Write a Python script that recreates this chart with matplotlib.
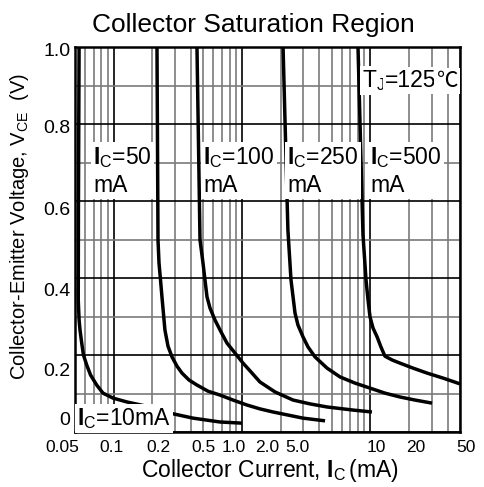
import matplotlib
matplotlib.use("Agg")
import matplotlib.pyplot as plt
from matplotlib.ticker import FixedLocator, NullFormatter, LogLocator

plt.rcParams['font.family'] = ['Liberation Sans', 'DejaVu Sans']
plt.rcParams['mathtext.fontset'] = 'custom'
plt.rcParams['mathtext.rm'] = 'Liberation Sans'
plt.rcParams['mathtext.it'] = 'Liberation Sans:italic'
plt.rcParams['mathtext.bf'] = 'Liberation Sans:bold'

# ---- data ----
curve_10_x = [0.0538, 0.0532, 0.0530, 0.0538, 0.0547, 0.0564, 0.0582, 0.0617, 0.0661, 0.0738, 0.0826,
              0.0989, 0.127, 0.192, 0.275, 0.416, 0.674, 1.0]
curve_10_y = [1.0, 0.603, 0.343, 0.291, 0.265, 0.231, 0.200, 0.174, 0.148, 0.122, 0.101,
              0.088, 0.078, 0.065, 0.049, 0.036, 0.026, 0.023]

curve_50_x = [0.2177, 0.2217, 0.2257, 0.2319, 0.238, 0.251, 0.2652, 0.285, 0.3117, 0.341, 0.3867, 0.446,
              0.5437, 0.674, 0.8513, 1.095, 1.3825, 1.745, 2.99, 4.44]
curve_50_y = [1.0, 0.499, 0.439, 0.395, 0.351, 0.265, 0.223, 0.195, 0.171, 0.153, 0.135, 0.122,
              0.106, 0.096, 0.083, 0.070, 0.060, 0.052, 0.036, 0.029]

curve_100_x = [0.446, 0.471, 0.497, 0.515, 0.534, 0.5636, 0.616, 0.6866, 0.764, 0.8826, 1.019, 1.176,
               1.38, 1.81, 2.50, 3.39, 4.6, 7.33, 10.3]
curve_100_y = [1.0, 0.499, 0.439, 0.395, 0.351, 0.322, 0.291, 0.260, 0.231, 0.205, 0.179, 0.156,
               0.130, 0.104, 0.083, 0.073, 0.065, 0.057, 0.052]

curve_250_x = [2.09, 2.28, 2.41, 2.59, 2.73, 2.99, 3.27, 3.71, 4.60, 5.81, 7.60, 9.95, 13.0, 17.0, 22.3, 30.3]
curve_250_y = [1.0, 0.525, 0.395, 0.309, 0.278, 0.247, 0.221, 0.195, 0.166, 0.143, 0.127, 0.114,
               0.101, 0.091, 0.083, 0.075]

curve_500_x = [8.02, 8.77, 9.26, 9.60, 9.95, 10.5, 11.3, 12.1, 13.0, 14.8, 17.0, 21.5, 27.7, 36.9, 50.0]
curve_500_y = [1.0, 0.512, 0.395, 0.343, 0.299, 0.270, 0.247, 0.221, 0.197, 0.187, 0.179, 0.166,
               0.153, 0.140, 0.125]

x_ticks = [0.05, 0.1, 0.2, 0.5, 1.0, 2.0, 5.0, 10, 20, 50]
x_tick_labels = ['0.05', '0.1', '0.2', '0.5', '1.0', '2.0', '5.0', '10', '20', '50']
y_ticks = [0, 0.2, 0.4, 0.6, 0.8, 1.0]
y_tick_labels = ['0', '0.2', '0.4', '0.6', '0.8', '1.0']

# nudges (points) of the tick labels, as they are placed in the reference
x_label_nudge = [-9.4, -1.4, 4.3, 0, -5.8, -10, -24.5, 4.3, 5, 4.3]
y_label_nudge = [8, -12, -10, -7, -3.2, -3.2]

fig = plt.figure(figsize=(4.84, 4.87), dpi=100)
ax = fig.add_axes([75/484, 55/487, 385/484, 385/487])

ax.set_xscale('log')
ax.set_xlim(0.05, 50)
ax.set_ylim(0, 1.0)

# grid
ax.xaxis.set_major_locator(FixedLocator([0.1, 1, 10]))
ax.xaxis.set_minor_locator(LogLocator(base=10, subs=[2, 3, 4, 5, 6, 7, 8, 9]))
ax.xaxis.set_major_formatter(NullFormatter())
ax.xaxis.set_minor_formatter(NullFormatter())
ax.yaxis.set_major_locator(FixedLocator(y_ticks))
ax.yaxis.set_minor_locator(FixedLocator([0.1, 0.3, 0.5, 0.7, 0.9]))
ax.yaxis.set_major_formatter(NullFormatter())
ax.grid(True, which='major', axis='both', color='black', lw=1.2)
ax.grid(True, which='minor', axis='both', color='#7a7a7a', lw=1.2)
ax.set_axisbelow(True)
ax.tick_params(axis='both', which='both', length=0)

for xs, ys in [(curve_10_x, curve_10_y), (curve_50_x, curve_50_y), (curve_100_x, curve_100_y),
               (curve_250_x, curve_250_y), (curve_500_x, curve_500_y)]:
    ax.plot(xs, ys, color='black', lw=2.5, solid_joinstyle='round', solid_capstyle='butt', zorder=3)

for xv, lab, dx in zip(x_ticks, x_tick_labels, x_label_nudge):
    ax.annotate(lab, xy=(xv, 0), xycoords=('data', 'axes fraction'), xytext=(dx, -6),
                textcoords='offset points', ha='center', va='top', fontsize=12.5, annotation_clip=False)

for yv, lab, dy in zip(y_ticks, y_tick_labels, y_label_nudge):
    ax.annotate(lab, xy=(0, yv), xycoords=('axes fraction', 'data'), xytext=(-3.2, dy),
                textcoords='offset points', ha='right', va='center', fontsize=14, annotation_clip=False)

for s in ax.spines.values():
    s.set_linewidth(1.8)
    s.set_zorder(4)

fig.text(270/484, 1 - 477/487, r'Collector Current, $\mathbf{I}_\mathrm{C}\,$(mA)', fontsize=16.5,
         ha='center', va='baseline')
fig.text(20/484, 1 - 226/487, r'Collector-Emitter Voltage, V$_\mathrm{CE}$  (V)', fontsize=14.5,
         rotation=90, ha='center', va='center')
fig.text(253/484, 1 - 32/487, 'Collector Saturation Region', fontsize=19, ha='center', va='baseline')

box = dict(facecolor='white', edgecolor='none', pad=1.5)
lab_fs = 16.5
def ltxt(px, py, s, **kw):
    return ax.text((px - 75) / 385, (432 - py) / 385, s, transform=ax.transAxes, fontsize=lab_fs,
                   ha='left', va='top', bbox=box, zorder=5, linespacing=1.2, **kw)

ltxt(93, 145, '$\\mathbf{I}_\\mathrm{C}$=50\nmA')
ltxt(203, 145, '$\\mathbf{I}_\\mathrm{C}$=100\nmA')
ltxt(287, 145, '$\\mathbf{I}_\\mathrm{C}$=250\nmA')
ltxt(370, 145, '$\\mathbf{I}_\\mathrm{C}$=500\nmA')
ltxt(77, 406, '$\\mathbf{I}_\\mathrm{C}$=10mA')

tj_base = (432 - 87) / 385
t1 = ax.text((362 - 75) / 385, tj_base, 'T$_\\mathrm{J}$', transform=ax.transAxes, fontsize=lab_fs,
             ha='left', va='baseline', bbox=box, zorder=5)
t2 = ax.annotate('=125', xy=(1, tj_base), xycoords=(t1, ax.transAxes), ha='left', va='baseline',
                 fontsize=lab_fs, bbox=box, zorder=5, annotation_clip=False)
ax.annotate('\u2103', xy=(1, tj_base), xycoords=(t2, ax.transAxes), ha='left', va='baseline',
            fontsize=lab_fs - 1, family=['Noto Sans CJK SC'], bbox=box, zorder=5,
            annotation_clip=False)

fig.savefig('out.png', dpi=100)
